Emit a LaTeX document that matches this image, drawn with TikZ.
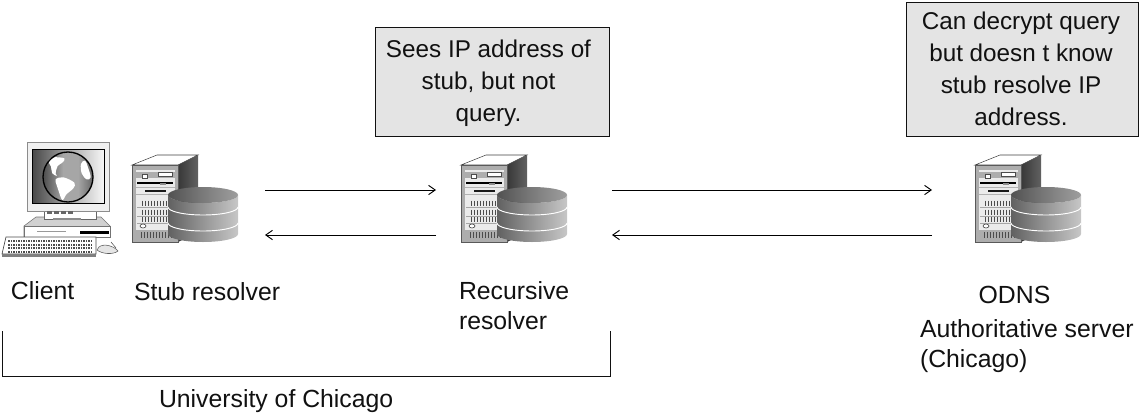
\documentclass[tikz,border=0pt]{standalone}
\usepackage{fontspec}
\setmainfont{Liberation Sans}
\usetikzlibrary{arrows.meta}
\definecolor{boxgray}{HTML}{E4E4E4}
\definecolor{ink}{HTML}{111111}
\pgfdeclarehorizontalshading{cylbody}{100bp}{color(0bp)=(black!62);color(25bp)=(black!62);color(42bp)=(black!48);color(52bp)=(black!40);color(75bp)=(black!22);color(100bp)=(black!22)}
\pgfdeclarehorizontalshading{cyltop}{100bp}{color(0bp)=(black!68);color(25bp)=(black!68);color(50bp)=(black!52);color(75bp)=(black!38);color(100bp)=(black!38)}
\pgfdeclarehorizontalshading{screenS}{100bp}{color(0bp)=(black!75);color(25bp)=(black!72);color(50bp)=(black!35);color(75bp)=(black!3);color(100bp)=(black!3)}
\pgfdeclarehorizontalshading{globeS}{100bp}{color(0bp)=(black!70);color(25bp)=(black!70);color(45bp)=(black!35);color(60bp)=(black!35);color(75bp)=(black!60);color(100bp)=(black!60)}
\tikzset{
  x=0.75pt,y=-0.75pt,
  every node/.style={text=ink,inner sep=0pt,outer sep=0pt},
  note text/.style={font=\fontsize{18.2pt}{24pt}\selectfont,align=center},
  label text/.style={font=\fontsize{18.6pt}{22.5pt}\selectfont,anchor=west,align=left},
  note/.style={draw=ink,line width=0.6pt,fill=boxgray},
  slot/.style={minimum width=79.5pt,minimum height=65pt},
  flow/.style={draw=black,line width=0.7pt,-{Straight Barb[length=5pt,width=7pt,line width=0.7pt]}},
  brace line/.style={draw=ink,line width=0.65pt},
  serverart/.pic={
    % roof and side
    \fill[white,draw=black!75,line width=0.4pt] (132,165)--(157,155)--(198,155)--(178,165)--cycle;
    \shade[left color=black!78,right color=black!62] (178,165)--(198,155)--(198,232)--(178,242)--cycle;
    % front
    \fill[black!32,draw=black!65,line width=0.4pt] (132,165) rectangle (178,242);
    \fill[black!8] (136,170) rectangle (175,230);
    \fill[black!32] (136,172) rectangle (175,178);
    \fill[white,draw=black!70,line width=0.3pt] (158,172.5) rectangle (172,176.5);
    \fill[white,draw=black!70,line width=0.3pt] (142,174) rectangle (147,178);
    \draw[black,line width=0.8pt] (137,183)--(173,183);
    \fill[black!45] (160,183) rectangle (166,185);
    \fill[black!30] (136,187) rectangle (175,188);
    \fill[black!30] (136,194) rectangle (175,195);
    \draw[black!90,line width=1.2pt] (145,191)--(166,191);
    \foreach \yy in {203,212,219}{
      \foreach \xx in {142,145,...,175}{\draw[black!70,line width=0.5pt] (\xx,\yy-2.5)--(\xx,\yy+2.5);}
      \draw[black!35,line width=0.3pt] (137,\yy+4)--(173,\yy+4);
    }
    \draw[black!80,line width=0.4pt,fill=white] (143,226) ellipse (3 and 2);
    \foreach \xx in {141,144,...,175}{\draw[black!70,line width=0.7pt] (\xx,232)--(\xx,238);}
    % database
    \shade[shading=cylbody] (168,195)--(168,234) arc[start angle=180,end angle=0,x radius=35,y radius=8] --(238,195) arc[start angle=0,end angle=180,x radius=35,y radius=8]--cycle;
    \shade[shading=cyltop] (203,195) ellipse (35 and 8);
    \draw[white,line width=0.7pt] (168,207) arc[start angle=180,end angle=0,x radius=35,y radius=8];
    \draw[white,line width=0.7pt] (168,223) arc[start angle=180,end angle=0,x radius=35,y radius=8];
  },
  clientart/.pic={
    % base unit
    \fill[black!18,draw=black!55,line width=0.4pt] (24,237)--(24,226)--(36,217)--(101,217)--(110,226)--(110,237)--cycle;
    \fill[white,draw=black!55,line width=0.3pt] (24,226) rectangle (110,237);
    \fill[black] (80,231) rectangle (109,234);
    \fill[black!40] (37,231) rectangle (66,232);
    % stand
    \fill[white,draw=black!60,line width=0.4pt] (44,211) rectangle (96,219);
    \fill[black!45] (53,218) rectangle (81,220);
    % monitor
    \fill[black!6,draw=black!45,line width=0.5pt] (27,142) rectangle (109,211);
    \shade[shading=screenS,draw=black,line width=0.5pt] (32,149) rectangle (104,203);
    \foreach \xx in {47,54,61,68}{\fill[black!60] (\xx,211) rectangle (\xx+5,214);}
    % globe
    \shade[shading=globeS] (68,177) circle (25);
    \begin{scope}[shift={(25,140)},x=0.25pt,y=-0.25pt]
      \fill[white] plot[smooth cycle,tension=0.6] coordinates {(70,62)(85,52)(118,55)(112,68)(98,78)(92,100)(96,108)(82,100)(78,80)};
      \fill[white] plot[smooth cycle,tension=0.6] coordinates {(92,118)(115,112)(148,128)(145,145)(125,162)(112,180)(100,150)(95,135)};
      \fill[white] plot[smooth cycle,tension=0.6] coordinates {(168,72)(180,62)(190,85)(197,112)(185,118)(170,100)};
    \end{scope}
    \draw[black,line width=1pt] (68,177) circle (25);
    % keyboard
    \fill[white,draw=black!70,line width=0.5pt] (6,237)--(96,237)--(96,254)--(2,254)--cycle;
    \fill[black!50] (2,254) rectangle (96,256.5);
    \foreach \yy in {240,243.5,247,250.5}{
      \foreach \xx in {8,10.5,...,92}{\fill[black!70] (\xx,\yy) rectangle (\xx+1.6,\yy+2);}
    }
    % mouse
    \fill[black!10,draw=black!65,line width=0.4pt] (99,247)..controls (104,243) and (114,246)..(118,251)..controls (113,255) and (102,254)..(97,250)--cycle;
    \draw[black!70,line width=0.4pt] (111,242)--(116,248);
  }
}
\begin{document}
\begin{tikzpicture}
\useasboundingbox (0,0) rectangle (1144,414);
\pic at (0,0) {clientart};
\pic at (0,0) {serverart};
\pic at (329,0) {serverart};
\pic at (843,0) {serverart};
\node[slot] (stub) at (185,198) {};
\node[slot] (rec) at (514,198) {};
\node[slot] (auth) at (1028,198) {};
\node[note,minimum width=175.5pt,minimum height=81.75pt] (n1) at (492.5,81.5) {};
\node[note text] (n1t) at (488.5,83.5) {Sees IP address of\\stub, but not\\query.};
\node[note,minimum height=100.5pt,minimum width=174pt] (n2) at (1022,69) {};
\node[note text] (n2t) at (1021,69) {Can decrypt query\\but doesn t know\\stub resolve IP\\address.};
\node[label text] (lc) at (11,291) {Client};
\node[label text] (ls) at (134,292) {Stub resolver};
\node[label text] (lr) at (459,306) {Recursive\\resolver};
\node[label text,anchor=center] (lo) at (1014.5,295) {ODNS};
\node[label text] (la) at (920,346.5) {Authoritative server\\(Chicago)};
\node[label text] (lu) at (159,401) {University of Chicago};
\draw[flow] ([shift={(27,-8)}]stub.east) -- ([shift={(-25,-8)}]rec.west);
\draw[flow] ([shift={(-25,37)}]rec.west) -- ([shift={(27,37)}]stub.east);
\draw[flow] ([shift={(45,-8)}]rec.east) -- ([shift={(-43,-8)}]auth.west);
\draw[flow] ([shift={(-43,37)}]auth.west) -- ([shift={(45,37)}]rec.east);
\coordinate (bl) at (2,331);
\coordinate (br) at (610,331);
\draw[brace line] (bl) -- (2,376) -- (610,376) -- (br);
\end{tikzpicture}
\end{document}
